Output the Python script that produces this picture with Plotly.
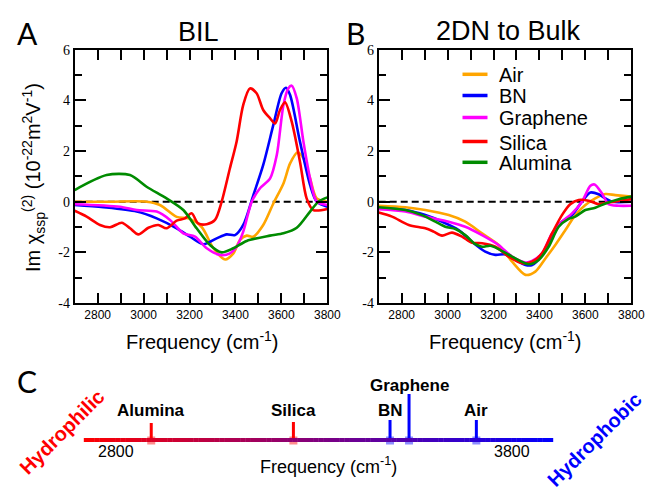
import plotly.graph_objects as go

W, H = 647, 488

# ---------------- data ----------------
names = ["Air", "BN", "Graphene", "Silica", "Alumina"]
colors = ["#FFA500", "#0000FF", "#FF00FF", "#FF0000", "#008B00"]

# Panel A (BIL)
A_air_f = [2700, 2850, 3013, 3071, 3144, 3195, 3253, 3304, 3355, 3391, 3420, 3449, 3478, 3521, 3565, 3609, 3638, 3671, 3696, 3725, 3754, 3800]
A_air_v = [0, 0, 0, -0.13, -0.6, -0.66, -1.0, -1.84, -2.28, -2.04, -1.51, -1.34, -1.38, -0.92, -0.07, 0.72, 1.51, 1.95, 1.71, 0.92, 0.13, 0]
A_bn_f = [2700, 2825, 2970, 3057, 3144, 3202, 3260, 3318, 3362, 3398, 3434, 3478, 3521, 3565, 3601, 3620, 3638, 3681, 3725, 3754, 3800]
A_bn_v = [-0.13, -0.22, -0.39, -0.66, -1.05, -1.38, -1.68, -1.45, -1.29, -1.32, -0.92, 0.26, 1.45, 3.03, 4.28, 4.5, 4.21, 2.37, 0.66, 0, -0.2]
A_gr_f = [2700, 2897, 2970, 3057, 3115, 3173, 3224, 3275, 3333, 3376, 3405, 3434, 3471, 3507, 3551, 3580, 3609, 3630, 3645, 3667, 3696, 3725, 3754, 3800]
A_gr_v = [-0.1, -0.2, -0.33, -0.39, -0.72, -1.25, -1.38, -1.84, -2.1, -2.04, -1.78, -1.18, 0, 0.53, 0.92, 1.84, 3.82, 4.47, 4.58, 4.08, 2.37, 0.92, 0, -0.13]
A_si_f = [2700, 2752, 2810, 2854, 2905, 2941, 2977, 3021, 3064, 3100, 3144, 3180, 3209, 3238, 3275, 3311, 3340, 3376, 3405, 3434, 3463, 3492, 3521, 3551, 3573, 3594, 3616, 3645, 3681, 3710, 3739, 3800]
A_si_v = [-0.36, -0.59, -0.92, -1.01, -0.83, -1.05, -1.29, -1.03, -0.92, -1.05, -0.75, -0.66, -0.46, -0.86, -0.89, -0.72, 0, 1.32, 2.37, 3.82, 4.47, 4.28, 3.62, 3.29, 3.09, 3.62, 3.92, 3.16, 1.58, 0.13, -0.33, -0.29]
A_al_f = [2700, 2839, 2941, 3013, 3100, 3173, 3231, 3289, 3340, 3391, 3449, 3550, 3609, 3667, 3725, 3761, 3800]
A_al_v = [0.46, 1.05, 1.05, 0.59, 0.13, -0.33, -1.05, -1.71, -2.0, -1.84, -1.55, -1.34, -1.25, -1.03, -0.39, 0, 0.17]

# Panel B (2DN to Bulk)
B_air_f = [2700, 2816, 2903, 3005, 3077, 3150, 3222, 3281, 3339, 3382, 3426, 3469, 3513, 3556, 3600, 3643, 3687, 3730, 3800]
B_air_v = [-0.16, -0.22, -0.33, -0.53, -0.79, -1.25, -1.71, -2.37, -2.89, -2.76, -2.24, -1.71, -1.12, -0.53, -0.13, 0.13, 0.3, 0.26, 0.2]
B_bn_f = [2700, 2816, 2903, 2976, 3048, 3106, 3164, 3208, 3252, 3295, 3339, 3368, 3411, 3455, 3498, 3542, 3585, 3622, 3658, 3687, 3716, 3800]
B_bn_v = [-0.26, -0.33, -0.53, -0.79, -1.12, -1.58, -1.97, -2.1, -2.08, -2.3, -2.5, -2.5, -2.1, -1.32, -0.79, -0.53, 0, 0.36, 0.29, 0.13, 0, 0]
B_gr_f = [2700, 2816, 2903, 3005, 3077, 3150, 3222, 3281, 3339, 3368, 3411, 3455, 3498, 3542, 3585, 3622, 3640, 3672, 3701, 3745, 3800]
B_gr_v = [-0.3, -0.39, -0.59, -0.79, -0.99, -1.32, -1.71, -2.17, -2.4, -2.34, -2.04, -1.25, -0.79, -0.46, 0, 0.63, 0.68, 0.33, -0.1, -0.16, -0.16]
B_si_f = [2700, 2758, 2831, 2903, 2939, 2976, 3019, 3063, 3106, 3150, 3208, 3266, 3324, 3368, 3411, 3455, 3498, 3534, 3571, 3614, 3658, 3701, 3745, 3800]
B_si_v = [-0.43, -0.59, -0.92, -1.05, -1.18, -1.34, -1.22, -1.38, -1.62, -1.64, -1.78, -2.17, -2.43, -2.37, -2.04, -1.25, -0.53, -0.1, 0.07, 0.04, -0.1, -0.03, 0.03, 0.1]
B_al_f = [2700, 2816, 2889, 2947, 2990, 3034, 3077, 3121, 3150, 3186, 3222, 3281, 3353, 3397, 3440, 3484, 3527, 3556, 3600, 3643, 3687, 3745, 3800]
B_al_v = [-0.22, -0.33, -0.53, -0.79, -0.99, -1.08, -1.32, -1.68, -1.78, -1.74, -1.87, -2.17, -2.47, -2.3, -1.78, -0.99, -0.68, -0.59, -0.33, -0.24, -0.07, 0.1, 0.2]

# Panel C: peak-frequency scale
C_names = ["Alumina", "Silica", "BN", "Graphene", "Air"]
C_freq = [2889, 3248, 3492, 3540, 3710]
C_colors = ["#FF0000", "#FF0000", "#0000FF", "#0000FF", "#0000FF"]
C_scale_labels = [2800, 3800]

x_ticks = [2800, 3000, 3200, 3400, 3600, 3800]
y_ticks = [-4, -2, 0, 2, 4, 6]

A_series = [(A_air_f, A_air_v), (A_bn_f, A_bn_v), (A_gr_f, A_gr_v), (A_si_f, A_si_v), (A_al_f, A_al_v)]
B_series = [(B_air_f, B_air_v), (B_bn_f, B_bn_v), (B_gr_f, B_gr_v), (B_si_f, B_si_v), (B_al_f, B_al_v)]

SANS = "Liberation Sans, Arial, sans-serif"

# ---------------- helpers ----------------
def px(x):
    return x / W

def py(y):
    return 1 - y / H

def ann(x, y, text, size, color="black", family=SANS, xref="paper", yref="paper",
        xanchor="center", yanchor="middle", angle=0):
    return dict(x=x, y=y, xref=xref, yref=yref, text=text, showarrow=False,
                xanchor=xanchor, yanchor=yanchor, textangle=angle,
                font=dict(family=family, size=size, color=color))

fig = go.Figure()

# zero dashed lines
for xa, ya in (("x", "y"), ("x2", "y2")):
    fig.add_trace(go.Scatter(x=[2700, 3800], y=[0, 0], mode="lines",
                             line=dict(color="black", width=2, dash="7px,4px"),
                             xaxis=xa, yaxis=ya, showlegend=False, hoverinfo="skip"))

for (f, v), n, c in zip(A_series, names, colors):
    fig.add_trace(go.Scatter(x=f, y=v, mode="lines", name=n,
                             line=dict(color=c, width=2.6, shape="spline", smoothing=0.8),
                             xaxis="x", yaxis="y", showlegend=False))
for (f, v), n, c in zip(B_series, names, colors):
    fig.add_trace(go.Scatter(x=f, y=v, mode="lines", name=n,
                             line=dict(color=c, width=2.6, shape="spline", smoothing=0.8),
                             xaxis="x2", yaxis="y2", showlegend=False))

# ---------------- panel C ----------------
C_PX_PER_UNIT = 0.396
C_X0 = 2800 - 116 / C_PX_PER_UNIT
C_X1 = C_X0 + W / C_PX_PER_UNIT
C_LINE_Y = 440  # pixel row of the scale line
c_line_start = C_X0 + 84 / C_PX_PER_UNIT
c_line_end = C_X0 + 553 / C_PX_PER_UNIT

shapes = []
nseg = 90
for i in range(nseg):
    t0 = i / nseg
    t1 = (i + 1) / nseg
    tm = (t0 + t1) / 2
    r = int(round(255 * (1 - tm)))
    b = int(round(255 * tm))
    shapes.append(dict(type="line", xref="x3", yref="y3",
                       x0=c_line_start + t0 * (c_line_end - c_line_start) - 0.5,
                       x1=c_line_start + t1 * (c_line_end - c_line_start) + 0.5,
                       y0=0, y1=0, line=dict(color=f"rgb({r},0,{b})", width=4)))

tick_heights = [17, 18, 20, 46, 20]
label_heights = [30, 30, 30, 55, 30]
for n, f, c, th in zip(C_names, C_freq, C_colors, tick_heights):
    fig.add_trace(go.Scatter(x=[f, f], y=[0, th], mode="lines",
                             line=dict(color=c, width=3),
                             xaxis="x3", yaxis="y3", showlegend=False, hoverinfo="skip"))
    fig.add_trace(go.Scatter(x=[f], y=[-0.5], mode="markers",
                             marker=dict(symbol="square", size=8, color=c, opacity=0.45,
                                         line=dict(width=0)),
                             xaxis="x3", yaxis="y3", showlegend=False, hoverinfo="skip"))

annotations = []
for n, f, lh in zip(C_names, C_freq, label_heights):
    annotations.append(ann(f, lh, f"<b>{n}</b>", 17, xref="x3", yref="y3"))
for v in C_scale_labels:
    annotations.append(ann(v, -11.5, str(v), 16, xref="x3", yref="y3"))
annotations.append(ann(px(328), py(465), "Frequency (cm<sup>-1</sup>)", 18))
annotations.append(ann(px(62), py(432), "<b>Hydrophilic</b>", 20, color="#FF0000", angle=-45))
annotations.append(ann(px(594), py(440), "<b>Hydrophobic</b>", 20, color="#0000FF", angle=-45))

# panel letters & titles
for letter, (lx, ly) in zip(["A", "B", "C"], [(27, 33), (355, 33), (27, 381)]):
    annotations.append(ann(px(lx), py(ly), letter, 30, family="Lato, Open Sans, sans-serif"))
annotations.append(ann(px(199), py(32), "BIL", 27))
annotations.append(ann(px(508), py(31), "2DN to Bulk", 27))

# axis titles
for cx in (202, 505):
    annotations.append(ann(px(cx), py(340), "Frequency (cm<sup>-1</sup>)", 20))
annotations.append(ann(px(33), py(178),
                       "Im χ<sub>ssp</sub><sup>(2)</sup> (10<sup>-22</sup>m<sup>2</sup>V<sup>-1</sup>)",
                       20, angle=-90))

# manual legend in panel B
leg_rows = [74.3, 95.5, 117.5, 141.5, 162.3]
for n, c, ry in zip(names, colors, leg_rows):
    shapes.append(dict(type="line", xref="paper", yref="paper",
                       x0=px(462.5), x1=px(487.5), y0=py(ry), y1=py(ry),
                       line=dict(color=c, width=3.5)))
    annotations.append(ann(px(497), py(ry + 1), n, 20, xanchor="left"))

# ---------------- axes ----------------
def xax(domain, anchor):
    return dict(domain=domain, anchor=anchor, range=[2700, 3800], automargin=False,
                tickvals=x_ticks, ticktext=[str(t) for t in x_ticks],
                ticks="inside", ticklen=10, tickwidth=1.5, tickcolor="black",
                minor=dict(dtick=100, tick0=2700, ticks="inside", ticklen=10,
                           tickwidth=1.5, tickcolor="black", showgrid=False),
                showline=True, linewidth=2, linecolor="black", mirror="ticks",
                showgrid=False, zeroline=False,
                tickfont=dict(family=SANS, size=12, color="black"),
                fixedrange=True)

def yax(domain, anchor):
    return dict(domain=domain, anchor=anchor, range=[-4, 6], automargin=False,
                tickvals=y_ticks, ticktext=[str(t) for t in y_ticks],
                ticks="inside", ticklen=11, tickwidth=1.5, tickcolor="black",
                minor=dict(dtick=1, tick0=0, ticks="inside", ticklen=7,
                           tickwidth=1.5, tickcolor="black", showgrid=False),
                showline=True, linewidth=2, linecolor="black", mirror="ticks",
                showgrid=False, zeroline=False,
                tickfont=dict(family="Liberation Serif, Times New Roman, serif", size=14, color="black"),
                fixedrange=True)

ydom = [py(303), py(49.7)]
fig.update_layout(
    template="none",
    width=W, height=H,
    margin=dict(l=0, r=0, t=0, b=0, pad=0, autoexpand=False),
    font=dict(family=SANS, color="black"),
    paper_bgcolor="white", plot_bgcolor="rgba(0,0,0,0)",
    showlegend=False,
    xaxis=xax([px(74.7), px(327.3)], "y"),
    yaxis=yax(ydom, "x"),
    xaxis2=xax([px(378.7), px(631.3)], "y2"),
    yaxis2=yax(ydom, "x2"),
    xaxis3=dict(domain=[0, 1], anchor="y3", range=[C_X0, C_X1], visible=False, automargin=False,
                showgrid=False, zeroline=False, fixedrange=True),
    yaxis3=dict(domain=[0, 1], anchor="x3", range=[-(H - C_LINE_Y), C_LINE_Y], visible=False,
                automargin=False, showgrid=False, zeroline=False, fixedrange=True),
    shapes=shapes,
    annotations=annotations,
)

fig.write_html("out.html")
